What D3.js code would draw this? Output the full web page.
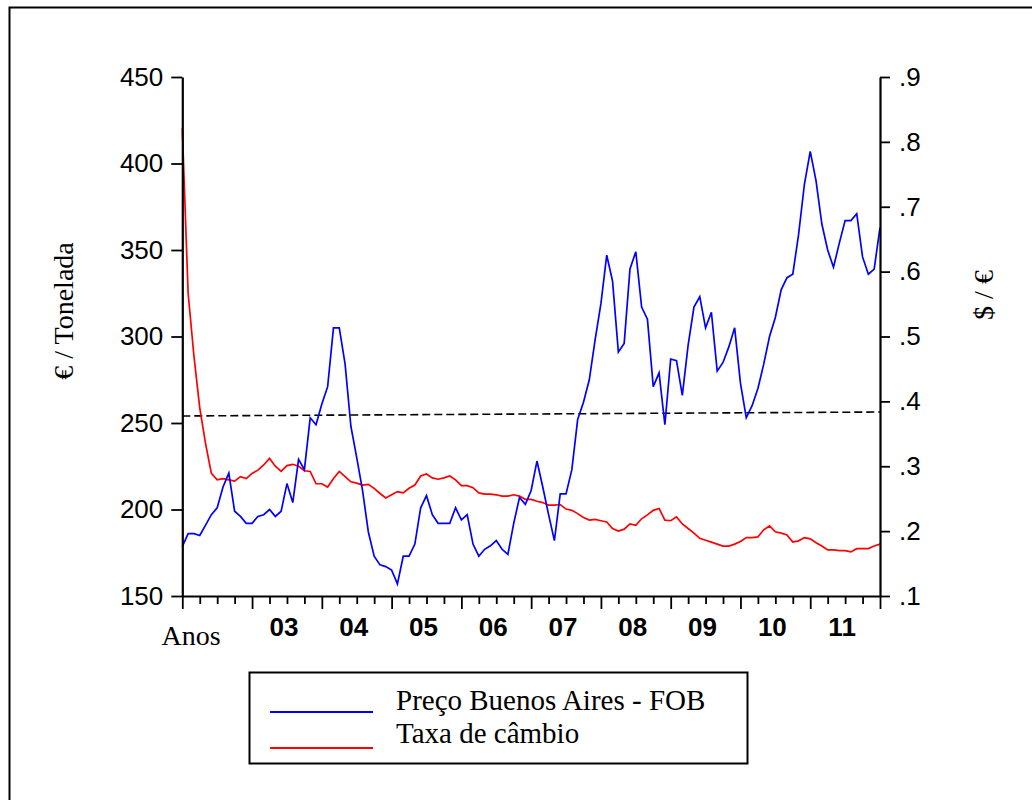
<!DOCTYPE html>
<html>
<head>
<meta charset="utf-8">
<script src="https://cdn.jsdelivr.net/npm/d3@7"></script>
<style>
  html, body { margin: 0; padding: 0; background: #fff; }
  svg { display: block; }
</style>
</head>
<body>
<svg id="chart" width="1032" height="800"></svg>
<script>
// ---- Data (monthly, Jan 2002 .. Jan 2012, index 0..120) ----
const yearLabels = ["03","04","05","06","07","08","09","10","11"];
const leftTicks = [150, 200, 250, 300, 350, 400, 450];
const rightTicks = [0.1, 0.2, 0.3, 0.4, 0.5, 0.6, 0.7, 0.8, 0.9];
const seriesNames = ["Preço Buenos Aires - FOB", "Taxa de câmbio"];

// Preço Buenos Aires - FOB (€ / Tonelada), left axis
const preco = [
  178.5,186,186,185,191,197,201,213,221,199,
  196,192,192,196,197,200,196,199,215,204,
  229,223,253,249,261,271,305,305,284,248,
  230,211,187,173,168,167,165,157,173,173,
  180,201,208,197,192,192,192,201,194,197,
  180,173,177,179,182,177,174,192,207,203,
  211,228,213,197,182,209,209,223,252,262,
  275,298,319,347,332,291,296,339,349,317,
  310,271,279,249,287,286,266,295,317,323,
  305,314,280,285,294,305,273,253,260,270,
  284,300,311,327,334,336,359,388,407,390,
  365,350,340,354,367,367,371,346,336,339,
  363
];

// Taxa de câmbio ($ / €), right axis
const taxa = [
  .821,.567,.470,.390,.335,.289,.279,.281,.279,.277,
  .284,.281,.289,.294,.302,.312,.300,.292,.301,.303,
  .300,.293,.292,.273,.273,.268,.281,.292,.284,.276,
  .274,.271,.272,.266,.258,.251,.256,.261,.259,.266,
  .271,.285,.288,.282,.280,.282,.285,.279,.270,.270,
  .267,.259,.257,.257,.256,.254,.254,.256,.254,.249,
  .249,.246,.244,.240,.240,.241,.234,.232,.227,.221,
  .217,.218,.216,.214,.204,.200,.203,.211,.209,.219,
  .225,.232,.235,.217,.216,.222,.211,.204,.197,.189,
  .186,.183,.180,.177,.177,.180,.184,.190,.190,.191,
  .202,.208,.199,.197,.194,.183,.185,.190,.188,.182,
  .177,.171,.171,.170,.170,.168,.173,.173,.173,.177,
  .180
];

// Dashed reference line (right axis), start and end values
const refLine = [0.3775, 0.3836];

// ---- Layout ----
const svg = d3.select("#chart");
const X0 = 182.3, X1 = 880, YT = 77, YB = 596;
const nMonths = preco.length - 1;

const x = d3.scaleLinear().domain([0, nMonths]).range([X0, X1]);
const yL = d3.scaleLinear().domain([150, 450]).range([YB, YT]);
const yR = d3.scaleLinear().domain([0.1, 0.9]).range([YB, YT]);

const sans = "'Liberation Sans', Arial, Helvetica, sans-serif";
const serif = "'Liberation Serif', 'Times New Roman', serif";

// Outer frame (extends past right and bottom edges)
svg.append("rect")
  .attr("x", 9.5).attr("y", 7.5)
  .attr("width", 1100).attr("height", 900)
  .attr("fill", "none").attr("stroke", "#000").attr("stroke-width", 2);

// Dashed reference line
svg.append("line")
  .attr("x1", x(0)).attr("x2", x(nMonths))
  .attr("y1", yR(refLine[0])).attr("y2", yR(refLine[1]))
  .attr("stroke", "#000").attr("stroke-width", 1.6)
  .attr("stroke-dasharray", "8,4");

// Series lines
const lineL = d3.line().x((d, i) => x(i)).y(d => yL(d));
const lineR = d3.line().x((d, i) => x(i)).y(d => yR(d));

svg.append("path").datum(taxa)
  .attr("d", lineR).attr("fill", "none")
  .attr("stroke", "#ff0000").attr("stroke-width", 1.7)
  .attr("stroke-linejoin", "miter");

svg.append("path").datum(preco)
  .attr("d", lineL).attr("fill", "none")
  .attr("stroke", "#0000ff").attr("stroke-width", 1.7)
  .attr("stroke-linejoin", "miter");

// Left axis
const gL = svg.append("g").attr("transform", `translate(${X0},0)`)
  .call(d3.axisLeft(yL).tickValues(leftTicks).tickSize(11).tickPadding(8).tickSizeOuter(0));
gL.select(".domain").attr("stroke-width", 2.2);
gL.selectAll(".tick line").attr("stroke-width", 1.8);
gL.selectAll(".tick text").attr("font-family", sans).attr("font-size", 26).attr("fill", "#000");

// Right axis
const gR = svg.append("g").attr("transform", `translate(${X1},0)`)
  .call(d3.axisRight(yR).tickValues(rightTicks).tickSize(10).tickPadding(9).tickSizeOuter(0)
    .tickFormat(d => d3.format(".1f")(d).replace(/^0/, "")));
gR.select(".domain").attr("stroke-width", 2.2);
gR.selectAll(".tick line").attr("stroke-width", 1.8);
gR.selectAll(".tick text").attr("font-family", sans).attr("font-size", 26).attr("fill", "#000");

// Bottom axis: quarterly ticks, long at year starts
const gB = svg.append("g").attr("transform", `translate(0,${YB})`)
  .call(d3.axisBottom(x).tickValues(d3.range(0, nMonths + 1, 3)).tickSize(7).tickFormat("").tickSizeOuter(0));
gB.select(".domain").attr("stroke-width", 2.2);
gB.selectAll(".tick line")
  .attr("stroke-width", 1.8)
  .attr("y2", d => (d % 12 === 0 ? 13 : 8));

// Year labels
svg.append("g").selectAll("text").data(yearLabels).join("text")
  .attr("x", (d, k) => x(12 * (k + 1) + 6) - 3)
  .attr("y", 636)
  .attr("text-anchor", "middle")
  .attr("font-family", sans).attr("font-weight", "bold").attr("font-size", 26)
  .text(d => d);

svg.append("text")
  .attr("x", 161.5).attr("y", 645)
  .attr("font-family", serif).attr("font-size", 28)
  .text("Anos");

// Axis titles
svg.append("text")
  .attr("transform", "translate(73,311) rotate(-90)")
  .attr("text-anchor", "middle")
  .attr("font-family", serif).attr("font-size", 28)
  .text("€ / Tonelada");

svg.append("text")
  .attr("transform", "translate(993,295) rotate(-90)")
  .attr("text-anchor", "middle")
  .attr("font-family", serif).attr("font-size", 28)
  .text("$ / €");

// Legend
const legend = svg.append("g");
legend.append("rect")
  .attr("x", 249.5).attr("y", 672.5).attr("width", 498).attr("height", 91)
  .attr("fill", "#fff").attr("stroke", "#000").attr("stroke-width", 2);
const legColors = ["#0000ff", "#ff0000"];
const legY = [712, 748];
seriesNames.forEach((name, k) => {
  legend.append("line")
    .attr("x1", 270).attr("x2", 373).attr("y1", legY[k]).attr("y2", legY[k])
    .attr("stroke", legColors[k]).attr("stroke-width", 1.8);
  legend.append("text")
    .attr("x", 396).attr("y", legY[k] - 2 - (k === 0 ? 0 : 3))
    .attr("font-family", serif).attr("font-size", 29)
    .text(name);
});
</script>
</body>
</html>
